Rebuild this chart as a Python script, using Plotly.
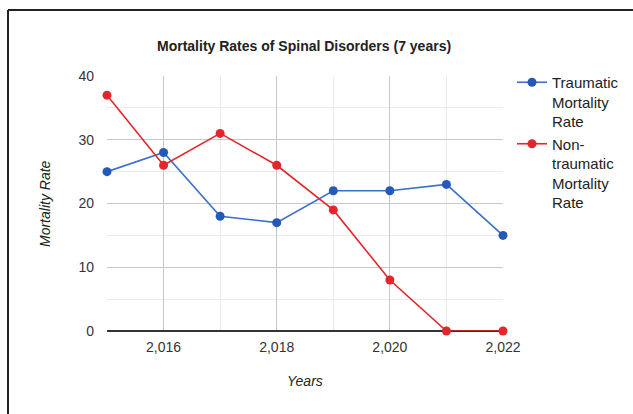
import plotly.graph_objects as go

years = [2015, 2016, 2017, 2018, 2019, 2020, 2021, 2022]
traumatic = [25, 28, 18, 17, 22, 22, 23, 15]
non_traumatic = [37, 26, 31, 26, 19, 8, 0, 0]

BLUE = "#2459b8"
RED = "#e3262b"
FONT = "Arial, Liberation Sans, sans-serif"

fig = go.Figure()
fig.add_trace(go.Scatter(
    x=years, y=traumatic, mode="lines+markers",
    name="Traumatic<br>Mortality<br>Rate",
    line=dict(color="#3a70c8", width=1.6),
    marker=dict(color=BLUE, size=9),
    cliponaxis=False,
))
fig.add_trace(go.Scatter(
    x=years, y=non_traumatic, mode="lines+markers",
    name="Non-<br>traumatic<br>Mortality<br>Rate",
    line=dict(color=RED, width=1.6),
    marker=dict(color=RED, size=9),
    cliponaxis=False,
))

L, R, T, B = 107, 130, 76, 83
W, H = 633, 414
pw, ph = W - L - R, H - T - B

def px(xp):
    return (xp - L) / pw

def py(yp):
    return (H - B - yp) / ph

fig.update_layout(
    width=W, height=H,
    margin=dict(l=L, r=R, t=T, b=B, autoexpand=False),
    paper_bgcolor="white", plot_bgcolor="white",
    font=dict(family=FONT, color="#444444", size=12),
    showlegend=True,
    legend=dict(
        x=px(512), y=py(66), xanchor="left", yanchor="top",
        font=dict(size=15, color="#222222"),
        itemwidth=30, tracegroupgap=0, valign="top",
        bgcolor="rgba(0,0,0,0)",
    ),
    xaxis=dict(
        range=[2015, 2022], tick0=2016, dtick=2,
        tickformat=",d", showgrid=True, gridcolor="#c8c8c8", gridwidth=1,
        minor=dict(dtick=1, tick0=2015, showgrid=True, gridcolor="#ebebeb"),
        zeroline=False, showline=False, ticks="",
        tickfont=dict(size=14, color="#333333"),
        ticklabelstandoff=6,
    ),
    yaxis=dict(
        range=[0, 40], dtick=10, showgrid=True, gridcolor="#c8c8c8", gridwidth=1,
        minor=dict(dtick=5, showgrid=True, gridcolor="#ebebeb"),
        zeroline=True, zerolinecolor="#333333", zerolinewidth=1.5,
        showline=False, ticks="",
        tickfont=dict(size=14, color="#333333"),
        ticklabelstandoff=12,
    ),
    annotations=[
        dict(text="<b>Mortality Rates of Spinal Disorders (7 years)</b>",
             x=px(304), y=py(46), xref="paper", yref="paper",
             xanchor="center", yanchor="middle",
             showarrow=False, font=dict(size=14, color="#222222")),
        dict(text="<i>Years</i>", x=px(305), y=py(381), xref="paper", yref="paper",
             xanchor="center", yanchor="middle",
             showarrow=False, font=dict(size=14, color="#222222")),
        dict(text="<i>Mortality Rate</i>", x=px(45), y=py(204), xref="paper", yref="paper",
             xanchor="center", yanchor="middle",
             showarrow=False, textangle=-90, font=dict(size=14, color="#222222")),
    ],
    shapes=[
        dict(type="line", xref="paper", yref="paper",
             x0=px(8), x1=px(640), y0=py(10), y1=py(10),
             line=dict(color="#222222", width=2)),
        dict(type="line", xref="paper", yref="paper",
             x0=px(8), x1=px(8), y0=py(10), y1=py(420),
             line=dict(color="#222222", width=2)),
    ],
)

fig.write_html("out.html")
